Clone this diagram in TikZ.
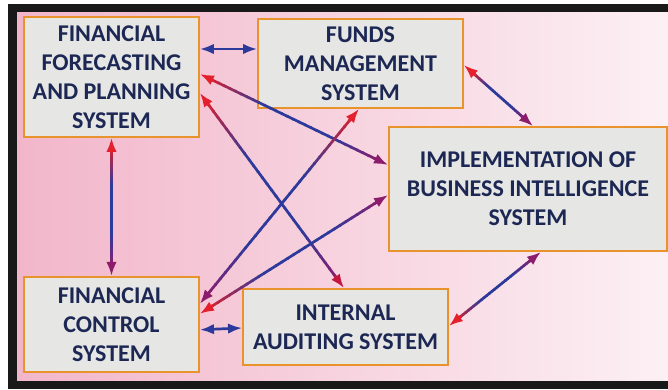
\documentclass[tikz,border=0pt]{standalone}
\usepackage{fontspec}
\setmainfont{Carlito}
\usetikzlibrary{positioning, calc, arrows.meta}

\definecolor{boxorange}{HTML}{E8932C}
\definecolor{boxgray}{HTML}{E6E6E4}
\definecolor{txtnavy}{HTML}{1C2754}
\definecolor{arrblue}{HTML}{2D3A9C}
\definecolor{arrred}{HTML}{E3202B}
\definecolor{arrpurple}{HTML}{8C1D6C}
\definecolor{arrcrimson}{HTML}{C3173F}
\definecolor{bgpink}{HTML}{F2B6CA}
\definecolor{bglight}{HTML}{FCF0F4}

% Ligação com degradê: ponta vermelha em #1, ponta #3 em #2
\newcommand{\gradlink}[3]{%
  \coordinate (gA) at ($(#1)!7pt!(#2)$);
  \coordinate (gB) at ($(#2)!7pt!(#1)$);
  \foreach \i in {1,...,30}{%
    \pgfmathsetmacro{\ta}{(\i-1.2)/30}
    \pgfmathsetmacro{\tb}{\i/30}
    \pgfmathsetmacro{\tm}{(\i-0.5)/30}
    \pgfmathsetmacro{\pr}{max(0,100-300*\tm)}
    \pgfmathsetmacro{\pp}{max(0,min(100,(\tm-0.72)*357))}
    \colorlet{segcol}{arrblue}
    \ifdim\pr pt>0pt \colorlet{segcol}{arrred!\pr!arrblue}\fi
    \ifdim\pp pt>0pt \colorlet{segcol}{arrpurple!\pp!arrblue}\fi
    \draw[link, segcol] ($(gA)!\ta!(gB)$) -- ($(gA)!\tb!(gB)$);
  }
  \draw[link, arrred, -{Latex[length=12pt,width=9pt]}] ($(#1)!13pt!(#2)$) -- (#1);
  \draw[link, #3, -{Latex[length=12pt,width=9pt]}] ($(#2)!13pt!(#1)$) -- (#2);
}

\begin{document}
\begin{tikzpicture}[
    x=0.03cm, y=-0.03cm,
    font=\fontsize{20.5}{24.7}\selectfont\bfseries,
    % Estilos
    box/.style={
        draw=boxorange, rectangle, fill=boxgray, align=center,
        text=txtnavy, line width=1.5pt, inner sep=0pt
    },
    link/.style={line width=2.3pt, line cap=butt},
    bluelink/.style={link, arrblue, {Latex[length=12pt,width=9pt]}-{Latex[length=12pt,width=9pt]}}
]
    \useasboundingbox (0,0) rectangle (668,389);

    % --- FUNDO ---
    \fill[black!90] (8,4) rectangle (668,389);
    \shade[left color=bgpink, right color=bglight] (17,12) rectangle (668,380);

    % --- NÓS ---
    \node[box, minimum width=5.25cm, minimum height=3.6cm] (ff) at (111.5,77)
        {FINANCIAL\\FORECASTING\\AND PLANNING\\SYSTEM};
    \node[box, minimum width=6.15cm, minimum height=2.67cm] (fm) at (360.5,63.5)
        {FUNDS\\MANAGEMENT\\SYSTEM};
    \node[box, minimum width=8.34cm, minimum height=3.72cm] (bi) at (528,189)
        {IMPLEMENTATION OF\\BUSINESS INTELLIGENCE\\SYSTEM};
    \node[box, minimum width=5.25cm, minimum height=2.85cm, below=4.14cm of ff] (fc)
        {FINANCIAL\\CONTROL\\SYSTEM};
    \node[box, minimum width=6.15cm, minimum height=2.28cm] (ia) at (345.5,327)
        {INTERNAL\\AUDITING SYSTEM};

    % --- PONTOS DE LIGAÇÃO ---
    \coordinate (ff_fm) at ($(ff.east)+(0,-28)$);
    \coordinate (fm_ff) at ($(fm.west)+(0,-14.5)$);
    \coordinate (fc_ia) at ($(fc.east)+(0,5.5)$);
    \coordinate (ia_fc) at ($(ia.west)+(0,1)$);
    \coordinate (fm_bi) at ($(fm.east)+(0,1.5)$);
    \coordinate (bi_fm) at ($(bi.north)+(5,0)$);
    \coordinate (bi_ia) at ($(bi.south)+(13,0)$);
    \coordinate (ia_bi) at ($(ia.east)+(0,-1)$);
    \coordinate (ff_bi) at ($(ff.east)+(0,-3)$);
    \coordinate (bi_ff) at ($(bi.west)+(0,-24)$);
    \coordinate (ff_ia) at ($(ff.east)+(0,16)$);
    \coordinate (ia_ff) at ($(ia.north)+(-1.5,0)$);
    \coordinate (fc_fm) at ($(fc.east)+(0,-20.5)$);
    \coordinate (fm_fc) at ($(fm.south)+(-1.5,0)$);
    \coordinate (fc_bi) at ($(fc.east)+(0,-10.5)$);
    \coordinate (bi_fc) at ($(bi.west)+(0,6)$);

    % --- CONEXÕES ---
    \draw[bluelink] (ff_fm) -- (fm_ff);
    \draw[bluelink] (fc_ia) -- (ia_fc);

    \gradlink{ff.south}{fc.north}{arrpurple}
    \gradlink{fm_bi}{bi_fm}{arrpurple}
    \gradlink{ia_bi}{bi_ia}{arrpurple}
    \gradlink{ff_bi}{bi_ff}{arrpurple}
    \gradlink{ff_ia}{ia_ff}{arrcrimson}
    \gradlink{fm_fc}{fc_fm}{arrpurple}
    \gradlink{fc_bi}{bi_fc}{arrpurple}

\end{tikzpicture}
\end{document}
